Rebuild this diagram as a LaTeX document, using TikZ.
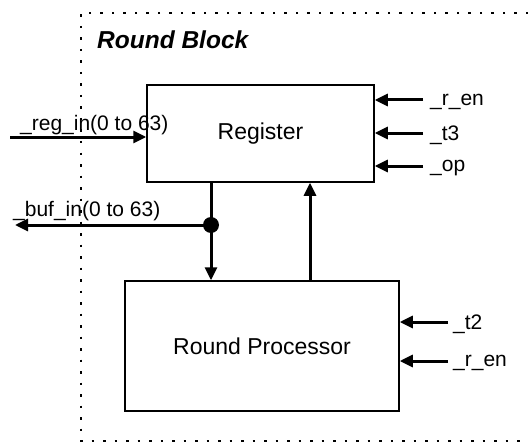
\documentclass[tikz,border=0pt]{standalone}
\usepackage{fontspec}
\setmainfont{Liberation Sans}
\usetikzlibrary{arrows.meta}
\begin{document}
\begin{tikzpicture}[x=1pt,y=-1pt,
  blk/.style={draw,line width=1.5pt,inner sep=0pt,font=\fontsize{23}{26}\selectfont},
  sig/.style={line width=3pt,-{Triangle[length=13pt,width=12pt]}},
  wire/.style={line width=3pt},
  lbl/.style={inner sep=0pt,font=\fontsize{21}{24}\selectfont},
  frame/.style={line width=2.5pt,dash pattern=on 2.5pt off 9pt}]
\useasboundingbox (0,0) rectangle (528,444);
% frame
\coordinate (f1) at (528,13);
\coordinate (f2) at (81,13);
\coordinate (f3) at (81,441);
\coordinate (f4) at (528,441);
\draw[frame] (f1) -- (f2) -- (f3) -- (f4);
\node[anchor=west,inner sep=0pt,font=\fontsize{24.5}{28}\selectfont\bfseries\itshape] (title) at (97,40) {Round Block};
% blocks
\node[blk,minimum width=227pt,minimum height=97pt] (reg) at (260.5,133.5) {Register};
\node[blk,minimum width=274pt,minimum height=130pt] (proc) at (262,346) {Round Processor};
% reg_in
\coordinate (regin) at (10,137);
\draw[sig] (regin) -- (regin -| reg.west);
\node[lbl,anchor=base west] (reginl) at (20,131) {\_reg\_in(0 to 63)};
% junction and buf_in
\coordinate (J) at (211,225);
\coordinate (bufout) at (15,225);
\draw[wire] (J |- reg.south) -- (J);
\draw[sig] (J) -- (J |- proc.north);
\draw[sig] (J) -- (bufout);
\fill (J) circle (8pt);
\node[lbl,anchor=base west] (bufl) at (13,216) {\_buf\_in(0 to 63)};
% feedback
\coordinate (fb) at (310,0);
\draw[sig] (fb |- proc.north) -- (fb |- reg.south);
% register inputs
\coordinate (a1) at (423,100);
\coordinate (a2) at (423,133);
\coordinate (a3) at (423,166);
\draw[sig] (a1) -- (a1 -| reg.east);
\draw[sig] (a2) -- (a2 -| reg.east);
\draw[sig] (a3) -- (a3 -| reg.east);
\node[lbl,anchor=west] (l1) at (430,102) {\_r\_en};
\node[lbl,anchor=west] (l2) at (430,135) {\_t3};
\node[lbl,anchor=west] (l3) at (430,168) {\_op};
% processor inputs
\coordinate (b1) at (448,322);
\coordinate (b2) at (448,361);
\draw[sig] (b1) -- (b1 -| proc.east);
\draw[sig] (b2) -- (b2 -| proc.east);
\node[lbl,anchor=west] (m1) at (453,324) {\_t2};
\node[lbl,anchor=west] (m2) at (453,363) {\_r\_en};
\end{tikzpicture}
\end{document}
